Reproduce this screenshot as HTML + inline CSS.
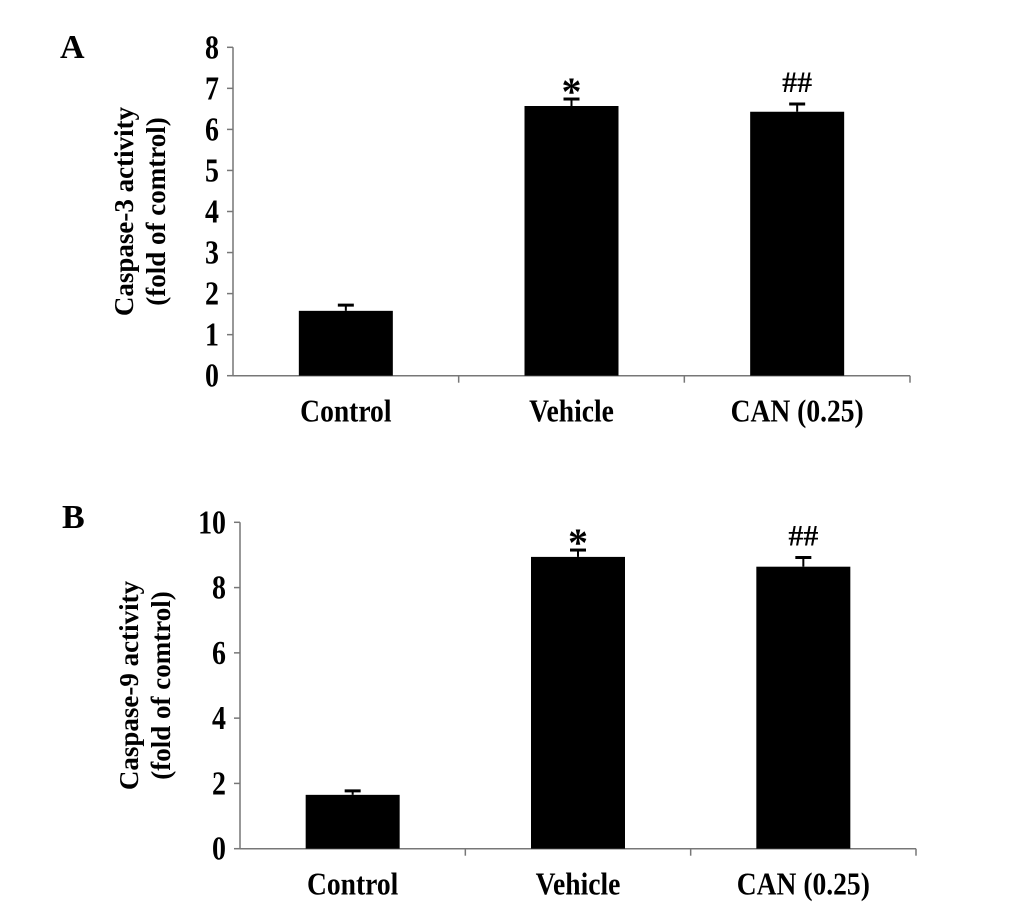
<!DOCTYPE html>
<html><head><meta charset="utf-8"><style>
body{margin:0;background:#fff}
svg{display:block;font-family:"Liberation Serif",serif;font-weight:bold}
</style></head><body>
<svg id="chart" width="1033" height="923" viewBox="0 0 1033 923"></svg>
<script>
const categories=["Control","Vehicle","CAN (0.25)"];
const valuesA=[1.58,6.57,6.43];
const errorsA=[0.14,0.17,0.19];
const ticksA=[0,1,2,3,4,5,6,7,8];
const marksA=["","*","##"];
const valuesB=[1.65,8.94,8.64];
const errorsB=[0.12,0.21,0.28];
const ticksB=[0,2,4,6,8,10];
const marksB=["","*","##"];
const NS="http://www.w3.org/2000/svg";
const svg=document.getElementById('chart');
function mk(tag,attrs,parent,text){const e=document.createElementNS(NS,tag);for(const k in attrs)e.setAttribute(k,attrs[k]);if(text!==undefined)e.textContent=text;(parent||svg).appendChild(e);return e;}
function panel(cfg,vals,errs,ticks,marks){
  const g=mk('g',{});
  
  
  const y=v=>cfg.y0-(v-0)/(cfg.max)*(cfg.y0-cfg.yTop);
  const bw=(cfg.x1-cfg.x0)/categories.length;
  const x=i=>cfg.x0+bw*(i+0.5);
  const pl=mk('text',{x:cfg.lx,y:cfg.ly,'font-size':34},g,cfg.letter);
  
  
  const ya=mk('line',{x1:cfg.x0,y1:cfg.yTop,x2:cfg.x0,y2:cfg.y0,stroke:'#777','stroke-width':1.5},g);
  
  
  const xa=mk('line',{x1:cfg.x0,y1:cfg.y0,x2:cfg.x1,y2:cfg.y0,stroke:'#777','stroke-width':1.5},g);
  
  
  ticks.forEach(t=>{
    mk('line',{x1:cfg.x0-6,y1:y(t),x2:cfg.x0,y2:y(t),stroke:'#777','stroke-width':1.5},g);
    const tl=mk('text',{x:cfg.x0-14,y:y(t)+11,'font-size':31,'text-anchor':'end',transform:`translate(${cfg.x0-14},${y(t)+11}) scale(0.9,1.1) translate(${-(cfg.x0-14)},${-(y(t)+11)})`},g,String(t));
    
    
  });
  for(let i=1;i<=categories.length;i++){mk('line',{x1:cfg.x0+bw*i,y1:cfg.y0,x2:cfg.x0+bw*i,y2:cfg.y0+7,stroke:'#777','stroke-width':1.5},g);}
  categories.forEach((c,i)=>{
    const bar=mk('rect',{x:x(i)-47,y:y(vals[i]),width:94,height:cfg.y0-y(vals[i]),fill:'#000'},g);
    
    
    const top=y(vals[i]+errs[i]);
    mk('line',{x1:x(i),y1:y(vals[i]),x2:x(i),y2:top,stroke:'#000','stroke-width':2},g);
    const cap=mk('line',{x1:x(i)-8,y1:top,x2:x(i)+8,y2:top,stroke:'#000','stroke-width':3},g);
    
    
    if(marks[i]){
      const star=marks[i]==='*';
      const m=mk('text',{x:x(i),y:top-(star?-6:12),'font-size':star?40:30,'text-anchor':'middle'},g,marks[i]);
      
      
    }
    const cl=mk('text',{x:x(i),y:cfg.y0+46,'font-size':29,'text-anchor':'middle',transform:`translate(${x(i)},${cfg.y0+46}) scale(0.95,1.1) translate(${-x(i)},${-(cfg.y0+46)})`},g,c);
    
    
  });
  const t=mk('text',{transform:`translate(${cfg.tx},${(cfg.y0+cfg.yTop)/2}) rotate(-90)`,'font-size':27,'text-anchor':'middle'},g);
  
  
  mk('tspan',{x:0,y:0},t,cfg.title);
  mk('tspan',{x:0,y:32},t,'(fold of comtrol)');
}
panel({name:'panel-a-caspase3',letter:'A',lx:60,ly:58,x0:233,x1:910,yTop:47.3,y0:375.7,max:8,tx:133,title:'Caspase-3 activity'},valuesA,errorsA,ticksA,marksA);
panel({name:'panel-b-caspase9',letter:'B',lx:62,ly:528,x0:240,x1:916,yTop:522.3,y0:848.7,max:10,tx:138,title:'Caspase-9 activity'},valuesB,errorsB,ticksB,marksB);
</script>
</body></html>
